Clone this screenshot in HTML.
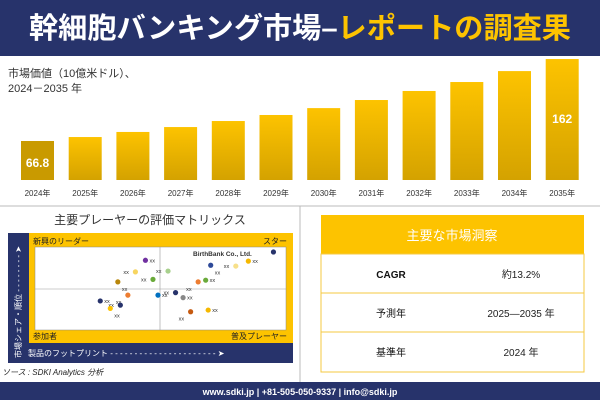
<!DOCTYPE html>
<html><head><meta charset="utf-8">
<style>
body{margin:0;width:600px;height:400px;overflow:hidden;background:#fff;font-family:"Liberation Sans","Noto Sans CJK JP",sans-serif;}
svg{display:block}
</style></head><body>
<svg id="c" width="600" height="400" xmlns="http://www.w3.org/2000/svg" font-family="Liberation Sans, Noto Sans CJK JP, sans-serif">
<defs>
<linearGradient id="bg" x1="0" y1="0" x2="0" y2="1"><stop offset="0" stop-color="#fdc300"/><stop offset="1" stop-color="#d4a200"/></linearGradient>
</defs>
<rect x="0" y="0" width="600" height="56" fill="#27336b"/>
<text x="300" y="38" text-anchor="middle" font-size="29" font-weight="bold" fill="#fff" textLength="542" lengthAdjust="spacingAndGlyphs">幹細胞バンキング市場–<tspan fill="#fdc300">レポートの調査果</tspan></text>
<text x="8" y="77" font-size="11" fill="#333">市場価値（10億米ドル）、</text>
<text x="8" y="92" font-size="11" fill="#333">2024－2035 年</text>
<g id="bars"></g>
<line x1="0" y1="206" x2="600" y2="206" stroke="#bbb"/>
<line x1="300" y1="206" x2="300" y2="382" stroke="#bbb"/>
<text x="150" y="224" text-anchor="middle" font-size="12" fill="#333">主要プレーヤーの評価マトリックス</text>
<rect x="8" y="233" width="285" height="130" fill="#27336b"/>
<rect x="29" y="233" width="264" height="110" fill="#fdc300"/>
<rect x="35" y="247" width="251" height="83" fill="#fff" stroke="#888" stroke-width="0.5"/>
<line x1="160" y1="247" x2="160" y2="330" stroke="#999" stroke-width="0.6"/>
<line x1="35" y1="289" x2="286" y2="289" stroke="#999" stroke-width="0.6"/>
<text x="33" y="244" font-size="8" fill="#222">新興のリーダー</text>
<text x="287" y="244" text-anchor="end" font-size="8" fill="#222">スター</text>
<text x="33" y="339" font-size="8" fill="#222">参加者</text>
<text x="287" y="339" text-anchor="end" font-size="8" fill="#222">普及プレーヤー</text>
<text x="28" y="356" font-size="8" fill="#fff">製品のフットプリント - - - - - - - - - - - - - - - - - - - - - - ➤</text>
<text transform="translate(21,358) rotate(-90)" font-size="8" fill="#fff">市場シェア・順位 - - - - - - - - ➤</text>
<text x="193" y="256" font-size="6.5" font-weight="bold" fill="#333">BirthBank Co., Ltd.</text>
<g id="dots"></g>
<text x="2" y="375" font-size="8" font-style="italic" fill="#222">ソース : SDKI Analytics 分析</text>
<rect x="321" y="215" width="263" height="39" fill="#fdc300"/>
<text x="452" y="240" text-anchor="middle" font-size="13" fill="#fff">主要な市場洞察</text>
<rect x="321" y="254" width="263" height="118" fill="#fff" stroke="#f5c842"/>
<line x1="321" y1="293" x2="584" y2="293" stroke="#f5c842"/>
<line x1="321" y1="332" x2="584" y2="332" stroke="#f5c842"/>
<text x="391" y="278" text-anchor="middle" font-size="10" font-weight="bold" fill="#111">CAGR</text>
<text x="521" y="278" text-anchor="middle" font-size="10" fill="#222">約13.2%</text>
<text x="391" y="317" text-anchor="middle" font-size="10" fill="#111">予測年</text>
<text x="521" y="317" text-anchor="middle" font-size="10" fill="#222">2025―2035 年</text>
<text x="391" y="356" text-anchor="middle" font-size="10" fill="#111">基準年</text>
<text x="521" y="356" text-anchor="middle" font-size="10" fill="#222">2024 年</text>
<rect x="0" y="382" width="600" height="18" fill="#27336b"/>
<text x="300" y="395" text-anchor="middle" font-size="9" font-weight="bold" fill="#fff">www.sdki.jp | +81-505-050-9337 | info@sdki.jp</text>
</svg>
<script>
const years=["2024年","2025年","2026年","2027年","2028年","2029年","2030年","2031年","2032年","2033年","2034年","2035年"];
const values=[66.8,71.4,77.3,83,90,97,105,114.4,124.9,135.3,148,162];
const shownLabels=["66.8","","","","","","","","","","","162"];
const dotX=[95,85,80,70,53,68,65,44,40,33,47,49,37,26,34,30,56,59,62,69];
const dotY=[94,83,77,78,71,60,58,84,70,58,61,42,42,35,30,26,45,39,22,24];
const dotColors=["#27336b","#f5b800","#f7e08a","#2e4a99","#a8d08d","#6aaa3a","#ed7d31","#7030a0","#f7d560","#b8860b","#6aaa3a","#0070c0","#ed7d31","#27336b","#27336b","#fdc300","#27336b","#888","#c55a11","#f5b800"];
const svg=document.getElementById('c');const NS="http://www.w3.org/2000/svg";
const x0=21,step=47.7,bw=33,base=180;
function yScale(v){return base-(v-21.5)*0.861;}
const bars=document.getElementById('bars');
values.forEach((v,i)=>{
 const r=document.createElementNS(NS,'rect');
 
 
 const x=x0+i*step;
 r.setAttribute('x',x);r.setAttribute('y',yScale(v));r.setAttribute('width',bw);r.setAttribute('height',base-yScale(v));
 r.setAttribute('fill',i==0?'#c99a00':'url(#bg)');bars.appendChild(r);
 const t=document.createElementNS(NS,'text');
 
 
 t.setAttribute('x',x+bw/2);t.setAttribute('y',196);t.setAttribute('text-anchor','middle');t.setAttribute('font-size','8');t.setAttribute('fill','#333');t.textContent=years[i];bars.appendChild(t);
 if(shownLabels[i]){const l=document.createElementNS(NS,'text');
 
 
 l.setAttribute('x',x+bw/2);l.setAttribute('y',i==0?167:123);l.setAttribute('text-anchor','middle');l.setAttribute('font-size','12');l.setAttribute('font-weight','bold');l.setAttribute('fill','#fff');l.textContent=shownLabels[i];bars.appendChild(l);}
});
const dots=document.getElementById('dots');
function dx(p){return 35+p/100*251;} function dy(p){return 330-p/100*83;}
dotX.forEach((p,i)=>{
 const c=document.createElementNS(NS,'circle');
 
 
 c.setAttribute('cx',dx(p));c.setAttribute('cy',dy(dotY[i]));c.setAttribute('r',2.6);c.setAttribute('fill',dotColors[i]);dots.appendChild(c);
 if(i>0){const t=document.createElementNS(NS,'text');
 
 
 t.setAttribute('x',dx(p)+(i%2?4:-12));t.setAttribute('y',dy(dotY[i])+(i%3==0?9:2));t.setAttribute('font-size','5.5');t.setAttribute('fill','#333');t.textContent='xx';dots.appendChild(t);}
});
</script>
</body></html>
